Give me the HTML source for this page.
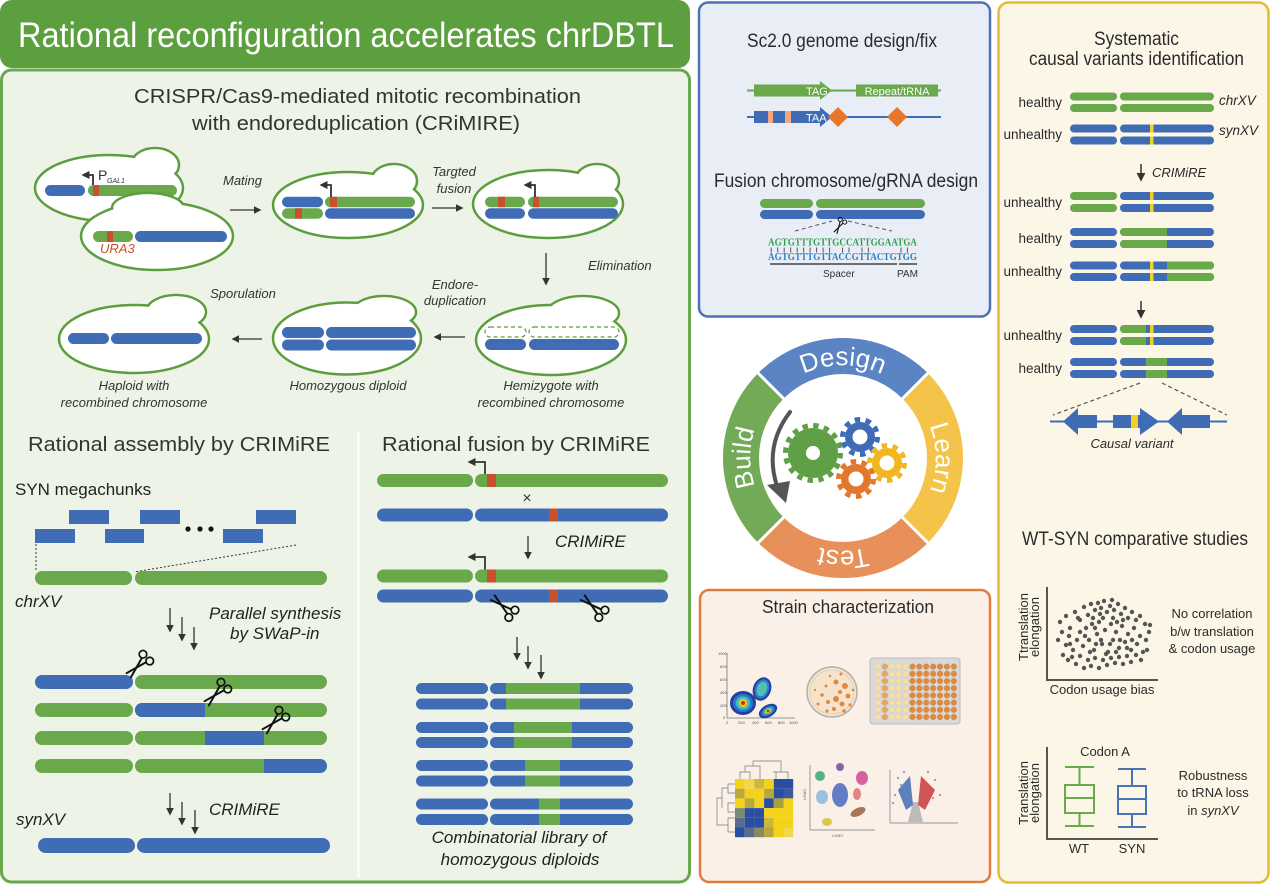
<!DOCTYPE html>
<html><head><meta charset="utf-8"><style>
html,body{margin:0;padding:0;background:#fff;}
svg{display:block;}
text{font-family:"Liberation Sans",Arial,sans-serif;}
</style></head><body>
<svg width="1274" height="886" viewBox="0 0 1274 886" xmlns="http://www.w3.org/2000/svg" xmlns:xlink="http://www.w3.org/1999/xlink">
<defs>
 <marker id="ah" viewBox="0 0 10 10" refX="8" refY="5" markerWidth="6" markerHeight="6" orient="auto"><path d="M0,0 L10,5 L0,10 z" fill="#333"/></marker>
 <marker id="ahs" viewBox="0 0 10 10" refX="8" refY="5" markerWidth="4.5" markerHeight="4.5" orient="auto"><path d="M0,0 L10,5 L0,10 z" fill="#333"/></marker>
 <g id="sc" fill="none" stroke="#111" stroke-width="2" stroke-linecap="round">
  <path d="M-16,-3 L5,2.8"/>
  <path d="M-16,3 L5,-2.8"/>
  <circle cx="9" cy="4.8" r="3.8" stroke-width="1.7"/>
  <circle cx="9" cy="-4.8" r="3.8" stroke-width="1.7"/>
 </g>
 <pattern id="wp" x="874.5" y="663" width="6.9" height="7.2" patternUnits="userSpaceOnUse"><circle cx="3.45" cy="3.6" r="2.8" fill="#f6e0a8" stroke="#e2c690" stroke-width="0.4"/></pattern>
 <pattern id="wt" x="874.5" y="663" width="6.9" height="7.2" patternUnits="userSpaceOnUse"><circle cx="3.45" cy="3.6" r="2.8" fill="#e6a765" stroke="#c98a4a" stroke-width="0.4"/></pattern>
 <pattern id="wo" x="874.5" y="663" width="6.9" height="7.2" patternUnits="userSpaceOnUse"><circle cx="3.45" cy="3.6" r="2.8" fill="#e08a3c" stroke="#c07030" stroke-width="0.4"/></pattern>
</defs>

<!-- ================= LEFT PANEL ================= -->
<rect x="1.5" y="70" width="688" height="812" rx="10" fill="#eef3e8" stroke="#6aa84f" stroke-width="3"/>
<rect x="0" y="0" width="690" height="68" rx="12" fill="#5c9f3e"/>
<text x="18" y="47" font-size="35" fill="#fff" textLength="656" lengthAdjust="spacingAndGlyphs">Rational reconfiguration accelerates chrDBTL</text>

<text x="134" y="103" font-size="20" fill="#333" textLength="447" lengthAdjust="spacingAndGlyphs">CRISPR/Cas9-mediated mitotic recombination</text>
<text x="192" y="130" font-size="20" fill="#333" textLength="328" lengthAdjust="spacingAndGlyphs">with endoreduplication (CRiMIRE)</text>

<!-- cell 1 -->
<ellipse cx="155" cy="165" rx="24" ry="17" fill="#fff" stroke="#5c9e3d" stroke-width="2.5"/>
<ellipse cx="109" cy="188" rx="74" ry="33" fill="#fff" stroke="#5c9e3d" stroke-width="2.5"/>
<ellipse cx="155" cy="165" rx="22.7" ry="15.7" fill="#fff"/>
<rect x="45" y="185" width="40" height="11" rx="5.5" fill="#3f6cb5"/>
<rect x="88" y="185" width="89" height="11" rx="5.5" fill="#69a84b"/>
<rect x="93" y="185" width="6" height="11" fill="#c9502c"/>
<path d="M93,185 V175 H83" fill="none" stroke="#333" stroke-width="1.8" marker-end="url(#ahs)"/>
<text x="98" y="180" font-size="14" fill="#333">P</text>
<text x="107" y="183" font-size="7" font-style="italic" fill="#333">GAL1</text>

<!-- cell 2 -->
<ellipse cx="148" cy="208" rx="36" ry="15" fill="#fff" stroke="#5c9e3d" stroke-width="2.5"/>
<ellipse cx="157" cy="236" rx="76" ry="34" fill="#fff" stroke="#5c9e3d" stroke-width="2.5"/>
<ellipse cx="148" cy="208" rx="34.7" ry="13.7" fill="#fff"/>
<rect x="93" y="231" width="40" height="11" rx="5.5" fill="#69a84b"/>
<rect x="107" y="231" width="6" height="11" fill="#c9502c"/>
<rect x="135" y="231" width="92" height="11" rx="5.5" fill="#3f6cb5"/>
<text x="100" y="253" font-size="13" font-style="italic" fill="#c9502c">URA3</text>

<text x="223" y="185" font-size="13" font-style="italic" fill="#333">Mating</text>
<line x1="230" y1="210" x2="260" y2="210" stroke="#333" stroke-width="1.3" marker-end="url(#ah)"/>

<!-- cell 3 -->
<ellipse cx="394" cy="181" rx="23" ry="17" fill="#fff" stroke="#5c9e3d" stroke-width="2.5"/>
<ellipse cx="348" cy="205" rx="75" ry="33" fill="#fff" stroke="#5c9e3d" stroke-width="2.5"/>
<ellipse cx="394" cy="181" rx="21.7" ry="15.7" fill="#fff"/>
<rect x="282" y="196.7" width="41" height="10.5" rx="5.25" fill="#3f6cb5"/>
<rect x="325" y="196.7" width="90" height="10.5" rx="5.25" fill="#69a84b"/>
<rect x="330" y="196.7" width="7" height="10.5" fill="#c9502c"/>
<rect x="282" y="208.2" width="41" height="10.5" rx="5.25" fill="#69a84b"/>
<rect x="295" y="208.2" width="7" height="10.5" fill="#c9502c"/>
<rect x="325" y="208.2" width="90" height="10.5" rx="5.25" fill="#3f6cb5"/>
<path d="M331,197 V185 H321" fill="none" stroke="#333" stroke-width="1.8" marker-end="url(#ahs)"/>

<text x="454" y="176" font-size="13" font-style="italic" fill="#333" text-anchor="middle">Targted</text>
<text x="454" y="193" font-size="13" font-style="italic" fill="#333" text-anchor="middle">fusion</text>
<line x1="432" y1="208" x2="462" y2="208" stroke="#333" stroke-width="1.3" marker-end="url(#ah)"/>

<!-- cell 4 -->
<ellipse cx="597" cy="181" rx="22" ry="17" fill="#fff" stroke="#5c9e3d" stroke-width="2.5"/>
<ellipse cx="548" cy="204" rx="75" ry="34" fill="#fff" stroke="#5c9e3d" stroke-width="2.5"/>
<ellipse cx="597" cy="181" rx="20.7" ry="15.7" fill="#fff"/>
<rect x="485" y="196.7" width="40" height="10.5" rx="5.25" fill="#69a84b"/>
<rect x="498" y="196.7" width="7" height="10.5" fill="#c9502c"/>
<rect x="528" y="196.7" width="90" height="10.5" rx="5.25" fill="#69a84b"/>
<rect x="533" y="196.7" width="6" height="10.5" fill="#c9502c"/>
<rect x="485" y="208.2" width="40" height="10.5" rx="5.25" fill="#3f6cb5"/>
<rect x="528" y="208.2" width="90" height="10.5" rx="5.25" fill="#3f6cb5"/>
<path d="M535,197 V185 H525" fill="none" stroke="#333" stroke-width="1.8" marker-end="url(#ahs)"/>

<line x1="546" y1="253" x2="546" y2="284" stroke="#333" stroke-width="1.3" marker-end="url(#ah)"/>
<text x="588" y="270" font-size="13" font-style="italic" fill="#333">Elimination</text>

<!-- hemizygote -->
<ellipse cx="583" cy="313" rx="36" ry="17" fill="#fff" stroke="#5c9e3d" stroke-width="2.5"/>
<ellipse cx="551" cy="340" rx="75" ry="35" fill="#fff" stroke="#5c9e3d" stroke-width="2.5"/>
<ellipse cx="583" cy="313" rx="34.7" ry="15.7" fill="#fff"/>
<rect x="485" y="327" width="41" height="10" rx="5" fill="none" stroke="#5c9e3d" stroke-width="1.2" stroke-dasharray="4 3"/>
<rect x="529" y="327" width="90" height="10" rx="5" fill="none" stroke="#5c9e3d" stroke-width="1.2" stroke-dasharray="4 3"/>
<rect x="485" y="339" width="41" height="11" rx="5.5" fill="#3f6cb5"/>
<rect x="529" y="339" width="90" height="11" rx="5.5" fill="#3f6cb5"/>

<text x="455" y="289" font-size="13" font-style="italic" fill="#333" text-anchor="middle">Endore-</text>
<text x="455" y="305" font-size="13" font-style="italic" fill="#333" text-anchor="middle">duplication</text>
<line x1="465" y1="337" x2="435" y2="337" stroke="#333" stroke-width="1.3" marker-end="url(#ah)"/>

<!-- homozygous -->
<ellipse cx="384" cy="312" rx="32" ry="16" fill="#fff" stroke="#5c9e3d" stroke-width="2.5"/>
<ellipse cx="347" cy="338.5" rx="74" ry="36" fill="#fff" stroke="#5c9e3d" stroke-width="2.5"/>
<ellipse cx="384" cy="312" rx="30.7" ry="14.7" fill="#fff"/>
<rect x="282" y="327" width="42" height="11" rx="5.5" fill="#3f6cb5"/>
<rect x="326" y="327" width="90" height="11" rx="5.5" fill="#3f6cb5"/>
<rect x="282" y="339.5" width="42" height="11" rx="5.5" fill="#3f6cb5"/>
<rect x="326" y="339.5" width="90" height="11" rx="5.5" fill="#3f6cb5"/>

<text x="243" y="298" font-size="13" font-style="italic" fill="#333" text-anchor="middle">Sporulation</text>
<line x1="262" y1="339" x2="233" y2="339" stroke="#333" stroke-width="1.3" marker-end="url(#ah)"/>

<!-- haploid -->
<ellipse cx="176" cy="312" rx="30" ry="17" fill="#fff" stroke="#5c9e3d" stroke-width="2.5"/>
<ellipse cx="134" cy="339" rx="75" ry="34" fill="#fff" stroke="#5c9e3d" stroke-width="2.5"/>
<ellipse cx="176" cy="312" rx="28.7" ry="15.7" fill="#fff"/>
<rect x="68" y="333" width="41" height="11" rx="5.5" fill="#3f6cb5"/>
<rect x="111" y="333" width="91" height="11" rx="5.5" fill="#3f6cb5"/>

<text x="134" y="390" font-size="13" font-style="italic" fill="#333" text-anchor="middle">Haploid with</text>
<text x="134" y="407" font-size="13" font-style="italic" fill="#333" text-anchor="middle">recombined chromosome</text>
<text x="348" y="390" font-size="13" font-style="italic" fill="#333" text-anchor="middle">Homozygous diploid</text>
<text x="551" y="390" font-size="13" font-style="italic" fill="#333" text-anchor="middle">Hemizygote with</text>
<text x="551" y="407" font-size="13" font-style="italic" fill="#333" text-anchor="middle">recombined chromosome</text>

<!-- divider -->
<line x1="358.5" y1="432" x2="358.5" y2="878" stroke="#fff" stroke-width="2"/>

<!-- ===== Rational assembly ===== -->
<text x="28" y="451" font-size="20" fill="#333" textLength="302" lengthAdjust="spacingAndGlyphs">Rational assembly by CRIMiRE</text>
<text x="15" y="495" font-size="17" fill="#222">SYN megachunks</text>
<g fill="#3f6cb5">
 <rect x="69" y="510" width="40" height="14"/>
 <rect x="140" y="510" width="40" height="14"/>
 <rect x="256" y="510" width="40" height="14"/>
 <rect x="35" y="529" width="40" height="14"/>
 <rect x="105" y="529" width="39" height="14"/>
 <rect x="223" y="529" width="40" height="14"/>
</g>
<circle cx="188" cy="529" r="2.6" fill="#111"/>
<circle cx="200" cy="529" r="2.6" fill="#111"/>
<circle cx="211" cy="529" r="2.6" fill="#111"/>
<line x1="36" y1="544" x2="36" y2="571" stroke="#333" stroke-width="1" stroke-dasharray="2 2"/>
<line x1="296" y1="545" x2="134" y2="572" stroke="#333" stroke-width="1" stroke-dasharray="2 2"/>
<rect x="35" y="571" width="97" height="14" rx="7" fill="#69a84b"/>
<rect x="135" y="571" width="192" height="14" rx="7" fill="#69a84b"/>
<text x="15" y="607" font-size="17" font-style="italic" fill="#222">chrXV</text>

<line x1="170" y1="608" x2="170" y2="631" stroke="#333" stroke-width="1.3" marker-end="url(#ah)"/>
<line x1="182" y1="617" x2="182" y2="640" stroke="#333" stroke-width="1.3" marker-end="url(#ah)"/>
<line x1="194" y1="627" x2="194" y2="649" stroke="#333" stroke-width="1.3" marker-end="url(#ah)"/>
<text x="209" y="619" font-size="17" font-style="italic" fill="#222">Parallel synthesis</text>
<text x="230" y="639" font-size="17" font-style="italic" fill="#222">by SWaP-in</text>

<!-- rows -->
<rect x="35" y="675" width="98" height="14" rx="7" fill="#3f6cb5"/>
<rect x="135" y="675" width="192" height="14" rx="7" fill="#69a84b"/>

<rect x="35" y="703" width="98" height="14" rx="7" fill="#69a84b"/>
<rect x="135" y="703" width="192" height="14" rx="7" fill="#69a84b"/>
<path d="M205,703 H142 A7,7 0 0 0 142,717 H205 Z" fill="#3f6cb5"/>

<rect x="35" y="731" width="98" height="14" rx="7" fill="#69a84b"/>
<rect x="135" y="731" width="192" height="14" rx="7" fill="#69a84b"/>
<rect x="205" y="731" width="59" height="14" fill="#3f6cb5"/>

<rect x="35" y="759" width="98" height="14" rx="7" fill="#69a84b"/>
<rect x="135" y="759" width="192" height="14" rx="7" fill="#69a84b"/>
<path d="M264,759 H320 A7,7 0 0 1 320,773 H264 Z" fill="#3f6cb5"/>

<use xlink:href="#sc" href="#sc" transform="translate(140,664) rotate(-45)"/>
<use xlink:href="#sc" href="#sc" transform="translate(218,692) rotate(-45)"/>
<use xlink:href="#sc" href="#sc" transform="translate(276,720) rotate(-45)"/>

<line x1="170" y1="793" x2="170" y2="814" stroke="#333" stroke-width="1.3" marker-end="url(#ah)"/>
<line x1="182" y1="802" x2="182" y2="824" stroke="#333" stroke-width="1.3" marker-end="url(#ah)"/>
<line x1="195" y1="810" x2="195" y2="833" stroke="#333" stroke-width="1.3" marker-end="url(#ah)"/>
<text x="209" y="815" font-size="17" font-style="italic" fill="#222">CRIMiRE</text>
<text x="16" y="825" font-size="17" font-style="italic" fill="#222">synXV</text>
<rect x="38" y="838" width="97" height="15" rx="7.5" fill="#3f6cb5"/>
<rect x="137" y="838" width="193" height="15" rx="7.5" fill="#3f6cb5"/>

<!-- ===== Rational fusion ===== -->
<text x="382" y="451" font-size="20" fill="#333" textLength="268" lengthAdjust="spacingAndGlyphs">Rational fusion by CRIMiRE</text>
<rect x="377" y="474" width="96" height="13" rx="6.5" fill="#69a84b"/>
<rect x="475" y="474" width="193" height="13" rx="6.5" fill="#69a84b"/>
<rect x="487" y="474" width="9" height="13" fill="#c9502c"/>
<path d="M485,474 V462 H469" fill="none" stroke="#333" stroke-width="1.8" marker-end="url(#ahs)"/>
<text x="527" y="503" font-size="16" fill="#333" text-anchor="middle">×</text>
<rect x="377" y="508.5" width="96" height="13" rx="6.5" fill="#3f6cb5"/>
<rect x="475" y="508.5" width="193" height="13" rx="6.5" fill="#3f6cb5"/>
<rect x="549" y="508.5" width="9" height="13" fill="#c9502c"/>
<line x1="528" y1="536" x2="528" y2="558" stroke="#333" stroke-width="1.3" marker-end="url(#ah)"/>
<text x="555" y="547" font-size="17" font-style="italic" fill="#222">CRIMiRE</text>
<rect x="377" y="569.5" width="96" height="13" rx="6.5" fill="#69a84b"/>
<rect x="475" y="569.5" width="193" height="13" rx="6.5" fill="#69a84b"/>
<rect x="487" y="569.5" width="9" height="13" fill="#c9502c"/>
<path d="M485,569.5 V557 H469" fill="none" stroke="#333" stroke-width="1.8" marker-end="url(#ahs)"/>
<rect x="377" y="589.5" width="96" height="13" rx="6.5" fill="#3f6cb5"/>
<rect x="475" y="589.5" width="193" height="13" rx="6.5" fill="#3f6cb5"/>
<rect x="549" y="589.5" width="9" height="13" fill="#c9502c"/>
<use xlink:href="#sc" href="#sc" transform="translate(505,608) rotate(40)"/>
<use xlink:href="#sc" href="#sc" transform="translate(595,608) rotate(40)"/>

<line x1="517" y1="637" x2="517" y2="659" stroke="#333" stroke-width="1.3" marker-end="url(#ah)"/>
<line x1="528" y1="646" x2="528" y2="668" stroke="#333" stroke-width="1.3" marker-end="url(#ah)"/>
<line x1="541" y1="655" x2="541" y2="678" stroke="#333" stroke-width="1.3" marker-end="url(#ah)"/>

<g fill="#3f6cb5">
 <rect x="416" y="683" width="72" height="11" rx="5.5"/><rect x="490" y="683" width="143" height="11" rx="5.5"/>
 <rect x="416" y="698.5" width="72" height="11" rx="5.5"/><rect x="490" y="698.5" width="143" height="11" rx="5.5"/>
 <rect x="416" y="722" width="72" height="11" rx="5.5"/><rect x="490" y="722" width="143" height="11" rx="5.5"/>
 <rect x="416" y="737" width="72" height="11" rx="5.5"/><rect x="490" y="737" width="143" height="11" rx="5.5"/>
 <rect x="416" y="760" width="72" height="11" rx="5.5"/><rect x="490" y="760" width="143" height="11" rx="5.5"/>
 <rect x="416" y="775.5" width="72" height="11" rx="5.5"/><rect x="490" y="775.5" width="143" height="11" rx="5.5"/>
 <rect x="416" y="798.5" width="72" height="11" rx="5.5"/><rect x="490" y="798.5" width="143" height="11" rx="5.5"/>
 <rect x="416" y="814" width="72" height="11" rx="5.5"/><rect x="490" y="814" width="143" height="11" rx="5.5"/>
</g>
<g fill="#69a84b">
 <rect x="506" y="683" width="74" height="11"/><rect x="506" y="698.5" width="74" height="11"/>
 <rect x="514" y="722" width="58" height="11"/><rect x="514" y="737" width="58" height="11"/>
 <rect x="525" y="760" width="35" height="11"/><rect x="525" y="775.5" width="35" height="11"/>
 <rect x="539" y="798.5" width="21" height="11"/><rect x="539" y="814" width="21" height="11"/>
</g>
<text x="519" y="843" font-size="17" font-style="italic" fill="#222" text-anchor="middle">Combinatorial library of</text>
<text x="520" y="865" font-size="17" font-style="italic" fill="#222" text-anchor="middle">homozygous diploids</text>

<!-- ================= MIDDLE TOP (blue) ================= -->
<rect x="699" y="2.5" width="291" height="314" rx="9" fill="#e9edf5" stroke="#4a72b8" stroke-width="2.5"/>
<text x="747" y="47" font-size="19" fill="#2b2b2b" textLength="190" lengthAdjust="spacingAndGlyphs">Sc2.0 genome design/fix</text>
<line x1="747" y1="90.5" x2="941" y2="90.5" stroke="#69a84b" stroke-width="2"/>
<path d="M754,84.5 H820 V81 L832,90.5 L820,100 V96.5 H754 Z" fill="#69a84b"/>
<text x="806" y="95" font-size="11" fill="#fff">TAG</text>
<rect x="856" y="84.5" width="82" height="12" fill="#69a84b"/>
<text x="897" y="95" font-size="11" fill="#fff" text-anchor="middle">Repeat/tRNA</text>
<line x1="747" y1="117" x2="941" y2="117" stroke="#3f6cb5" stroke-width="2"/>
<path d="M754,111 H820 V107 L832,117 L820,127 V123 H754 Z" fill="#3f6cb5"/>
<rect x="768" y="111" width="5" height="12" fill="#f2a87a"/>
<rect x="785" y="111" width="6" height="12" fill="#f2a87a"/>
<text x="806" y="121.5" font-size="11" fill="#fff">TAA</text>
<path d="M838,107 L848,117 L838,127 L828,117 Z" fill="#e8772e"/>
<path d="M897,107 L907,117 L897,127 L887,117 Z" fill="#e8772e"/>

<text x="714" y="187" font-size="19" fill="#2b2b2b" textLength="264" lengthAdjust="spacingAndGlyphs">Fusion chromosome/gRNA design</text>
<rect x="760" y="199" width="53" height="9" rx="4.5" fill="#69a84b"/>
<rect x="816" y="199" width="109" height="9" rx="4.5" fill="#69a84b"/>
<rect x="760" y="210" width="53" height="9" rx="4.5" fill="#3f6cb5"/>
<rect x="816" y="210" width="109" height="9" rx="4.5" fill="#3f6cb5"/>
<line x1="795" y1="231" x2="832" y2="221" stroke="#555" stroke-width="1" stroke-dasharray="4 3"/>
<line x1="848" y1="221" x2="892" y2="231" stroke="#555" stroke-width="1" stroke-dasharray="4 3"/>
<use xlink:href="#sc" href="#sc" transform="translate(840,225) rotate(-60) scale(0.55)"/>
<text x="768" y="245.5" font-size="10" font-weight="bold" fill="#2f9e4f" textLength="149" lengthAdjust="spacingAndGlyphs" style="font-family:'Liberation Serif',serif">AGTGTTTGTTGCCATTGGAATGA</text>
<g stroke="#555" stroke-width="1">
 <line x1="771.2" y1="247.5" x2="771.2" y2="252.5"/><line x1="777.7" y1="247.5" x2="777.7" y2="252.5"/><line x1="784.2" y1="247.5" x2="784.2" y2="252.5"/><line x1="790.7" y1="247.5" x2="790.7" y2="252.5"/><line x1="797.2" y1="247.5" x2="797.2" y2="252.5"/><line x1="803.6" y1="247.5" x2="803.6" y2="252.5"/><line x1="810.1" y1="247.5" x2="810.1" y2="252.5"/><line x1="816.6" y1="247.5" x2="816.6" y2="252.5"/><line x1="823.1" y1="247.5" x2="823.1" y2="252.5"/><line x1="829.6" y1="247.5" x2="829.6" y2="252.5"/>
 <line x1="842.5" y1="247.5" x2="842.5" y2="252.5"/><line x1="849" y1="247.5" x2="849" y2="252.5"/><line x1="862" y1="247.5" x2="862" y2="252.5"/><line x1="868.4" y1="247.5" x2="868.4" y2="252.5"/><line x1="901" y1="247.5" x2="901" y2="252.5"/><line x1="907.4" y1="247.5" x2="907.4" y2="252.5"/>
</g>
<text x="768" y="260" font-size="10" font-weight="bold" fill="#2f7fc1" textLength="149" lengthAdjust="spacingAndGlyphs" style="font-family:'Liberation Serif',serif">AGTGTTTGTTACCGTTACTGTGG</text>
<line x1="770" y1="264" x2="897" y2="264" stroke="#444" stroke-width="1.5"/>
<line x1="899" y1="264" x2="917" y2="264" stroke="#444" stroke-width="1.5"/>
<text x="823" y="277" font-size="10" fill="#333">Spacer</text>
<text x="897" y="277" font-size="10" fill="#333">PAM</text>

<!-- ================= DBTL RING ================= -->
<path d="M758.15,373.15 A120,120 0 0 1 927.85,373.15 L902.4,398.6 A84,84 0 0 0 783.6,398.6 Z" fill="#5b84c4"/>
<path d="M927.85,373.15 A120,120 0 0 1 927.85,542.85 L902.4,517.4 A84,84 0 0 0 902.4,398.6 Z" fill="#f4c44a"/>
<path d="M927.85,542.85 A120,120 0 0 1 758.15,542.85 L783.6,517.4 A84,84 0 0 0 902.4,517.4 Z" fill="#e8905a"/>
<path d="M758.15,542.85 A120,120 0 0 1 758.15,373.15 L783.6,398.6 A84,84 0 0 0 783.6,517.4 Z" fill="#72aa57"/>
<g stroke="#fff" stroke-width="3">
 <line x1="756" y1="371" x2="786" y2="401"/><line x1="930" y1="371" x2="900" y2="401"/>
 <line x1="930" y1="545" x2="900" y2="515"/><line x1="756" y1="545" x2="786" y2="515"/>
</g>
<path id="ringp" d="M777.95,523.05 A92,92 0 1 1 908.05,392.95 A92,92 0 1 1 777.95,523.05" fill="none"/>
<text font-size="26" fill="#fff" text-anchor="middle">
 <textPath xlink:href="#ringp" href="#ringp" startOffset="12.5%">Build</textPath>
</text>
<text font-size="26" fill="#fff" text-anchor="middle">
 <textPath xlink:href="#ringp" href="#ringp" startOffset="37.5%">Design</textPath>
</text>
<text font-size="26" fill="#fff" text-anchor="middle">
 <textPath xlink:href="#ringp" href="#ringp" startOffset="62.5%">Learn</textPath>
</text>
<text font-size="26" fill="#fff" text-anchor="middle">
 <textPath xlink:href="#ringp" href="#ringp" startOffset="87.5%">Test</textPath>
</text>

<!-- gears -->
<circle cx="813" cy="453" r="25" fill="#5fa046"/>
<circle cx="813" cy="453" r="27.5" fill="none" stroke="#5fa046" stroke-width="5" stroke-dasharray="5.4 5.4"/>
<circle cx="813" cy="453" r="7" fill="#fff"/>
<circle cx="860" cy="437" r="15" fill="#3f6cb5"/>
<circle cx="860" cy="437" r="17.5" fill="none" stroke="#3f6cb5" stroke-width="5" stroke-dasharray="5.5 5.5"/>
<circle cx="860" cy="437" r="7.5" fill="#fff"/>
<circle cx="887" cy="463" r="15" fill="#f2b61f"/>
<circle cx="887" cy="463" r="17.5" fill="none" stroke="#f2b61f" stroke-width="5" stroke-dasharray="5.5 5.5"/>
<circle cx="887" cy="463" r="7.5" fill="#fff"/>
<circle cx="856" cy="479" r="15" fill="#e2782f"/>
<circle cx="856" cy="479" r="17.5" fill="none" stroke="#e2782f" stroke-width="5" stroke-dasharray="5.5 5.5"/>
<circle cx="856" cy="479" r="7.5" fill="#fff"/>
<!-- curved arrow -->
<path d="M790,412 Q764,446 777,486" fill="none" stroke="#555" stroke-width="4" stroke-linecap="round"/>
<path d="M767,485 L790,481 L786,503 Z" fill="#555"/>

<!-- ================= MIDDLE BOTTOM (orange) ================= -->
<rect x="700" y="590" width="290" height="292" rx="9" fill="#fbf0e8" stroke="#e07b39" stroke-width="2.5"/>
<text x="762" y="613" font-size="18" fill="#2b2b2b" textLength="172" lengthAdjust="spacingAndGlyphs">Strain characterization</text>

<!-- flow plot -->
<g stroke="#777" stroke-width="0.8">
 <line x1="727" y1="653" x2="727" y2="718"/><line x1="727" y1="718" x2="795" y2="718"/>
</g>
<g font-size="4" fill="#555">
 <text x="718" y="655">1000</text><text x="720" y="668">800</text><text x="720" y="681">600</text><text x="720" y="694">400</text><text x="720" y="707">200</text><text x="723" y="719">0</text>
 <text x="726" y="724">0</text><text x="738" y="724">200</text><text x="752" y="724">400</text><text x="765" y="724">600</text><text x="778" y="724">800</text><text x="789" y="724">1000</text>
</g>
<ellipse cx="743" cy="703" rx="13" ry="12" fill="#23409e"/>
<ellipse cx="743" cy="703" rx="10" ry="9" fill="#2a7ad0"/>
<ellipse cx="743" cy="703" rx="7" ry="6.5" fill="#43c1b8"/>
<ellipse cx="743" cy="703" rx="4" ry="4" fill="#f0d000"/>
<circle cx="743" cy="703" r="2" fill="#d52020"/>
<g transform="translate(762,689) rotate(20)">
 <ellipse rx="9" ry="12" fill="#23409e"/><ellipse rx="7" ry="10" fill="#2a7ad0"/><ellipse rx="5" ry="7.5" fill="#52c0b0"/>
</g>
<g transform="translate(768,711) rotate(-30)">
 <ellipse rx="10" ry="6" fill="#23409e"/><ellipse rx="7.5" ry="4.2" fill="#2a7ad0"/><ellipse rx="5" ry="3" fill="#43c1b8"/><ellipse rx="3" ry="2" fill="#f0d000"/><circle r="1.3" fill="#d52020"/>
</g>

<!-- petri -->
<circle cx="832" cy="692" r="25" fill="#f6e3cb" stroke="#b5b0a8" stroke-width="1.5"/>
<circle cx="832" cy="692" r="22" fill="none" stroke="#d8cfc2" stroke-width="0.8"/>
<g fill="#e08a3c">
 <circle cx="836" cy="682" r="2.5"/><circle cx="845" cy="686" r="3"/><circle cx="840" cy="692" r="2"/><circle cx="848" cy="696" r="2.5"/><circle cx="836" cy="699" r="3"/><circle cx="828" cy="702" r="2"/><circle cx="842" cy="704" r="2.5"/><circle cx="822" cy="695" r="1.8"/><circle cx="834" cy="709" r="2"/><circle cx="850" cy="705" r="1.6"/><circle cx="826" cy="686" r="1.5"/><circle cx="818" cy="704" r="1.5"/><circle cx="830" cy="676" r="1.3"/><circle cx="841" cy="674" r="1.5"/><circle cx="853" cy="690" r="1.4"/><circle cx="827" cy="711" r="1.6"/><circle cx="815" cy="690" r="1.2"/><circle cx="844" cy="711" r="1.8"/>
</g>

<!-- plate -->
<rect x="870" y="658" width="90" height="66" rx="3" fill="#d9d9d9" stroke="#bcbcbc" stroke-width="1"/>
<rect x="874.5" y="663" width="6.9" height="57.6" fill="url(#wp)"/>
<rect x="881.4" y="663" width="6.9" height="57.6" fill="url(#wt)"/>
<rect x="888.3" y="663" width="20.7" height="57.6" fill="url(#wp)"/>
<rect x="909" y="663" width="48.3" height="57.6" fill="url(#wo)"/>

<!-- heatmap -->
<g fill="none" stroke="#777" stroke-width="0.7">
 <path d="M740,779 V772 H750 V779 M745,772 V766 H760 V779 M753,766 V761 H781 V772 M773,772 H788 V779 M776,772 V779"/>
 <path d="M735,784 H728 V793 H735 M728,788 H722 V808 M722,798 H717 V825 H728 M735,803 H728 V812 H735 M728,825 V818 H735 M728,825 V832 H735"/>
</g>
<g>
 <rect x="735" y="779" width="9.7" height="9.7" fill="#f5d21a"/><rect x="744.7" y="779" width="9.7" height="9.7" fill="#f0d84a"/><rect x="754.4" y="779" width="9.7" height="9.7" fill="#c9b83a"/><rect x="764.1" y="779" width="9.7" height="9.7" fill="#f5d21a"/><rect x="773.8" y="779" width="9.7" height="9.7" fill="#2a4fa0"/><rect x="783.5" y="779" width="9.7" height="9.7" fill="#2a4fa0"/>
 <rect x="735" y="788.7" width="9.7" height="9.7" fill="#b8a93a"/><rect x="744.7" y="788.7" width="9.7" height="9.7" fill="#f5d21a"/><rect x="754.4" y="788.7" width="9.7" height="9.7" fill="#f5d21a"/><rect x="764.1" y="788.7" width="9.7" height="9.7" fill="#b8a93a"/><rect x="773.8" y="788.7" width="9.7" height="9.7" fill="#2a4fa0"/><rect x="783.5" y="788.7" width="9.7" height="9.7" fill="#3a5aa0"/>
 <rect x="735" y="798.4" width="9.7" height="9.7" fill="#f5d21a"/><rect x="744.7" y="798.4" width="9.7" height="9.7" fill="#b8a93a"/><rect x="754.4" y="798.4" width="9.7" height="9.7" fill="#f5d21a"/><rect x="764.1" y="798.4" width="9.7" height="9.7" fill="#2a4fa0"/><rect x="773.8" y="798.4" width="9.7" height="9.7" fill="#a8a040"/><rect x="783.5" y="798.4" width="9.7" height="9.7" fill="#f5d21a"/>
 <rect x="735" y="808.1" width="9.7" height="9.7" fill="#7a8a70"/><rect x="744.7" y="808.1" width="9.7" height="9.7" fill="#2a4fa0"/><rect x="754.4" y="808.1" width="9.7" height="9.7" fill="#2a4fa0"/><rect x="764.1" y="808.1" width="9.7" height="9.7" fill="#f5d21a"/><rect x="773.8" y="808.1" width="9.7" height="9.7" fill="#f5d21a"/><rect x="783.5" y="808.1" width="9.7" height="9.7" fill="#f5d21a"/>
 <rect x="735" y="817.8" width="9.7" height="9.7" fill="#5a6c8a"/><rect x="744.7" y="817.8" width="9.7" height="9.7" fill="#2a4fa0"/><rect x="754.4" y="817.8" width="9.7" height="9.7" fill="#2a4fa0"/><rect x="764.1" y="817.8" width="9.7" height="9.7" fill="#c9b83a"/><rect x="773.8" y="817.8" width="9.7" height="9.7" fill="#f5d21a"/><rect x="783.5" y="817.8" width="9.7" height="9.7" fill="#f5d21a"/>
 <rect x="735" y="827.5" width="9.7" height="9.7" fill="#2a4fa0"/><rect x="744.7" y="827.5" width="9.7" height="9.7" fill="#5a6c8a"/><rect x="754.4" y="827.5" width="9.7" height="9.7" fill="#8a8a60"/><rect x="764.1" y="827.5" width="9.7" height="9.7" fill="#b8a93a"/><rect x="773.8" y="827.5" width="9.7" height="9.7" fill="#f5d21a"/><rect x="783.5" y="827.5" width="9.7" height="9.7" fill="#f0d84a"/>
</g>

<!-- tsne -->
<g stroke="#777" stroke-width="0.7"><line x1="810" y1="765" x2="810" y2="830"/><line x1="810" y1="830" x2="875" y2="830"/></g>
<g font-size="3.5" fill="#666"><text x="832" y="837">t-SNE1</text><text x="806" y="800" transform="rotate(-90 806 800)">t-SNE2</text></g>
<g opacity="0.85">
 <ellipse cx="820" cy="776" rx="5" ry="5" fill="#3aa57a"/>
 <ellipse cx="840" cy="767" rx="4" ry="4" fill="#7a4aa0"/>
 <ellipse cx="862" cy="778" rx="6" ry="7" fill="#d04a90"/>
 <ellipse cx="822" cy="797" rx="6" ry="7" fill="#8ab8e0"/>
 <ellipse cx="840" cy="795" rx="8" ry="12" fill="#4a6ac0"/>
 <ellipse cx="857" cy="794" rx="4" ry="6" fill="#e07070"/>
 <ellipse cx="858" cy="812" rx="8" ry="4" fill="#a06040" transform="rotate(-25 858 812)"/>
 <ellipse cx="827" cy="822" rx="5" ry="4" fill="#d8c030"/>
</g>

<!-- volcano -->
<g stroke="#777" stroke-width="0.7"><line x1="890" y1="770" x2="890" y2="823"/><line x1="890" y1="823" x2="958" y2="823"/></g>
<path d="M908,822 L913,802 L918,802 L923,822 Z" fill="#bbb"/>
<path d="M898,790 L910,776 L913,805 L906,810 Z" fill="#3f6cb5" opacity="0.85"/>
<path d="M921,776 L935,790 L925,810 L918,805 Z" fill="#c83a3a" opacity="0.85"/>
<g fill="#3f6cb5"><circle cx="898" cy="778" r="0.9"/><circle cx="904" cy="772" r="0.9"/><circle cx="895" cy="795" r="0.9"/><circle cx="901" cy="785" r="0.9"/><circle cx="893" cy="803" r="0.9"/></g>
<g fill="#c83a3a"><circle cx="935" cy="780" r="0.9"/><circle cx="940" cy="795" r="0.9"/><circle cx="933" cy="798" r="0.9"/><circle cx="928" cy="772" r="0.9"/></g>

<!-- ================= RIGHT PANEL ================= -->
<rect x="998.5" y="2.5" width="270" height="880" rx="10" fill="#fcf6e7" stroke="#e8b934" stroke-width="2.5"/>
<text x="1094" y="45" font-size="19" fill="#2b2b2b" textLength="85" lengthAdjust="spacingAndGlyphs">Systematic</text>
<text x="1029" y="65" font-size="19" fill="#2b2b2b" textLength="215" lengthAdjust="spacingAndGlyphs">causal variants identification</text>

<g font-size="13.5" fill="#2b2b2b" text-anchor="end">
 <text x="1062" y="107">healthy</text>
 <text x="1062" y="139">unhealthy</text>
 <text x="1062" y="207">unhealthy</text>
 <text x="1062" y="243">healthy</text>
 <text x="1062" y="276">unhealthy</text>
 <text x="1062" y="340">unhealthy</text>
 <text x="1062" y="373">healthy</text>
</g>
<text x="1219" y="105" font-size="13.5" font-style="italic" fill="#2b2b2b">chrXV</text>
<text x="1219" y="135" font-size="13.5" font-style="italic" fill="#2b2b2b">synXV</text>

<!-- group 1 -->
<rect x="1070" y="92.5" width="47" height="8" rx="4" fill="#69a84b"/><rect x="1120" y="92.5" width="94" height="8" rx="4" fill="#69a84b"/>
<rect x="1070" y="104" width="47" height="8" rx="4" fill="#69a84b"/><rect x="1120" y="104" width="94" height="8" rx="4" fill="#69a84b"/>
<rect x="1070" y="124.5" width="47" height="8" rx="4" fill="#3f6cb5"/><rect x="1120" y="124.5" width="94" height="8" rx="4" fill="#3f6cb5"/><rect x="1150" y="124.5" width="3.5" height="8" fill="#f5d020"/>
<rect x="1070" y="136.5" width="47" height="8" rx="4" fill="#3f6cb5"/><rect x="1120" y="136.5" width="94" height="8" rx="4" fill="#3f6cb5"/><rect x="1150" y="136.5" width="3.5" height="8" fill="#f5d020"/>

<line x1="1141" y1="164" x2="1141" y2="180" stroke="#333" stroke-width="1.5" marker-end="url(#ah)"/>
<text x="1152" y="177" font-size="13" font-style="italic" fill="#2b2b2b">CRIMiRE</text>

<!-- group 2 -->
<rect x="1070" y="192" width="47" height="8" rx="4" fill="#69a84b"/><rect x="1120" y="192" width="94" height="8" rx="4" fill="#3f6cb5"/><rect x="1150" y="192" width="3.5" height="8" fill="#f5d020"/>
<rect x="1070" y="204" width="47" height="8" rx="4" fill="#69a84b"/><rect x="1120" y="204" width="94" height="8" rx="4" fill="#3f6cb5"/><rect x="1150" y="204" width="3.5" height="8" fill="#f5d020"/>

<rect x="1070" y="228" width="47" height="8" rx="4" fill="#3f6cb5"/><rect x="1120" y="228" width="94" height="8" rx="4" fill="#3f6cb5"/><path d="M1167,228 H1124 A4,4 0 0 0 1124,236 H1167 Z" fill="#69a84b"/>
<rect x="1070" y="240" width="47" height="8" rx="4" fill="#3f6cb5"/><rect x="1120" y="240" width="94" height="8" rx="4" fill="#3f6cb5"/><path d="M1167,240 H1124 A4,4 0 0 0 1124,248 H1167 Z" fill="#69a84b"/>

<rect x="1070" y="261.5" width="47" height="8" rx="4" fill="#3f6cb5"/><rect x="1120" y="261.5" width="94" height="8" rx="4" fill="#3f6cb5"/><rect x="1150" y="261.5" width="3.5" height="8" fill="#f5d020"/><path d="M1167,261.5 H1210 A4,4 0 0 1 1210,269.5 H1167 Z" fill="#69a84b"/>
<rect x="1070" y="273" width="47" height="8" rx="4" fill="#3f6cb5"/><rect x="1120" y="273" width="94" height="8" rx="4" fill="#3f6cb5"/><rect x="1150" y="273" width="3.5" height="8" fill="#f5d020"/><path d="M1167,273 H1210 A4,4 0 0 1 1210,281 H1167 Z" fill="#69a84b"/>

<line x1="1141" y1="301" x2="1141" y2="317" stroke="#333" stroke-width="1.5" marker-end="url(#ah)"/>

<!-- group 3 -->
<rect x="1070" y="325" width="47" height="8" rx="4" fill="#3f6cb5"/><rect x="1120" y="325" width="94" height="8" rx="4" fill="#3f6cb5"/><path d="M1146,325 H1124 A4,4 0 0 0 1124,333 H1146 Z" fill="#69a84b"/><rect x="1150" y="325" width="3.5" height="8" fill="#f5d020"/>
<rect x="1070" y="337" width="47" height="8" rx="4" fill="#3f6cb5"/><rect x="1120" y="337" width="94" height="8" rx="4" fill="#3f6cb5"/><path d="M1146,337 H1124 A4,4 0 0 0 1124,345 H1146 Z" fill="#69a84b"/><rect x="1150" y="337" width="3.5" height="8" fill="#f5d020"/>
<rect x="1070" y="358" width="47" height="8" rx="4" fill="#3f6cb5"/><rect x="1120" y="358" width="94" height="8" rx="4" fill="#3f6cb5"/><rect x="1146" y="358" width="21" height="8" fill="#69a84b"/>
<rect x="1070" y="370" width="47" height="8" rx="4" fill="#3f6cb5"/><rect x="1120" y="370" width="94" height="8" rx="4" fill="#3f6cb5"/><rect x="1146" y="370" width="21" height="8" fill="#69a84b"/>

<line x1="1140" y1="383" x2="1053" y2="415" stroke="#555" stroke-width="1.2" stroke-dasharray="4 3"/>
<line x1="1162" y1="383" x2="1227" y2="415" stroke="#555" stroke-width="1.2" stroke-dasharray="4 3"/>
<line x1="1050" y1="421.5" x2="1227" y2="421.5" stroke="#3f6cb5" stroke-width="2"/>
<path d="M1063,421.5 L1078,408 V415 H1097 V428 H1078 V435 Z" fill="#3f6cb5"/>
<path d="M1113,415 H1140 V408 L1159,421.5 L1140,435 V428 H1113 Z" fill="#3f6cb5"/>
<rect x="1131" y="415" width="7" height="13" fill="#f5d020"/>
<path d="M1167,421.5 L1182,408 V415 H1210 V428 H1182 V435 Z" fill="#3f6cb5"/>
<text x="1132" y="448" font-size="13" font-style="italic" fill="#2b2b2b" text-anchor="middle">Causal variant</text>

<!-- WT-SYN -->
<text x="1022" y="545" font-size="19" fill="#2b2b2b" textLength="226" lengthAdjust="spacingAndGlyphs">WT-SYN comparative studies</text>
<path d="M1047,587 V680 H1158" fill="none" stroke="#555" stroke-width="2"/>
<text transform="translate(1028,627) rotate(-90)" font-size="13" fill="#2b2b2b" text-anchor="middle">Ttranslation</text>
<text transform="translate(1039,627) rotate(-90)" font-size="13" fill="#2b2b2b" text-anchor="middle">elongation</text>
<text x="1102" y="694" font-size="13" fill="#2b2b2b" text-anchor="middle">Codon usage bias</text>
<g fill="#555">
 <circle cx="1060" cy="622" r="2.2"/><circle cx="1066" cy="616" r="2.2"/><circle cx="1070" cy="628" r="2.2"/><circle cx="1075" cy="612" r="2.2"/><circle cx="1080" cy="620" r="2.2"/><circle cx="1084" cy="607" r="2.2"/><circle cx="1088" cy="615" r="2.2"/><circle cx="1091" cy="604" r="2.2"/><circle cx="1095" cy="610" r="2.2"/><circle cx="1098" cy="603" r="2.2"/><circle cx="1101" cy="608" r="2.2"/><circle cx="1104" cy="601" r="2.2"/><circle cx="1107" cy="612" r="2.2"/><circle cx="1110" cy="606" r="2.2"/><circle cx="1114" cy="610" r="2.2"/><circle cx="1118" cy="604" r="2.2"/><circle cx="1121" cy="614" r="2.2"/><circle cx="1125" cy="608" r="2.2"/><circle cx="1128" cy="618" r="2.2"/><circle cx="1132" cy="612" r="2.2"/><circle cx="1136" cy="620" r="2.2"/><circle cx="1140" cy="616" r="2.2"/><circle cx="1145" cy="624" r="2.2"/><circle cx="1150" cy="625" r="2.2"/>
 <circle cx="1058" cy="640" r="2.2"/><circle cx="1062" cy="632" r="2.2"/><circle cx="1066" cy="645" r="2.2"/><circle cx="1069" cy="636" r="2.2"/><circle cx="1073" cy="650" r="2.2"/><circle cx="1077" cy="640" r="2.2"/><circle cx="1080" cy="632" r="2.2"/><circle cx="1083" cy="646" r="2.2"/><circle cx="1086" cy="628" r="2.2"/><circle cx="1089" cy="640" r="2.2"/><circle cx="1092" cy="624" r="2.2"/><circle cx="1094" cy="650" r="2.2"/><circle cx="1097" cy="634" r="2.2"/><circle cx="1099" cy="622" r="2.2"/><circle cx="1102" cy="644" r="2.2"/><circle cx="1105" cy="630" r="2.2"/><circle cx="1108" cy="652" r="2.2"/><circle cx="1111" cy="624" r="2.2"/><circle cx="1113" cy="640" r="2.2"/><circle cx="1116" cy="632" r="2.2"/><circle cx="1119" cy="648" r="2.2"/><circle cx="1122" cy="626" r="2.2"/><circle cx="1125" cy="642" r="2.2"/><circle cx="1128" cy="634" r="2.2"/><circle cx="1131" cy="650" r="2.2"/><circle cx="1134" cy="628" r="2.2"/><circle cx="1137" cy="644" r="2.2"/><circle cx="1140" cy="636" r="2.2"/><circle cx="1143" cy="652" r="2.2"/><circle cx="1146" cy="640" r="2.2"/><circle cx="1149" cy="632" r="2.2"/>
 <circle cx="1063" cy="655" r="2.2"/><circle cx="1068" cy="660" r="2.2"/><circle cx="1072" cy="657" r="2.2"/><circle cx="1076" cy="664" r="2.2"/><circle cx="1080" cy="656" r="2.2"/><circle cx="1084" cy="668" r="2.2"/><circle cx="1088" cy="660" r="2.2"/><circle cx="1091" cy="666" r="2.2"/><circle cx="1095" cy="658" r="2.2"/><circle cx="1099" cy="668" r="2.2"/><circle cx="1103" cy="660" r="2.2"/><circle cx="1107" cy="665" r="2.2"/><circle cx="1111" cy="658" r="2.2"/><circle cx="1115" cy="663" r="2.2"/><circle cx="1119" cy="657" r="2.2"/><circle cx="1123" cy="664" r="2.2"/><circle cx="1127" cy="656" r="2.2"/><circle cx="1131" cy="662" r="2.2"/><circle cx="1136" cy="655" r="2.2"/><circle cx="1141" cy="660" r="2.2"/><circle cx="1147" cy="650" r="2.2"/>
 <circle cx="1078" cy="618" r="2.2"/><circle cx="1093" cy="618" r="2.2"/><circle cx="1103" cy="618" r="2.2"/><circle cx="1113" cy="618" r="2.2"/><circle cx="1117" cy="622" r="2.2"/><circle cx="1085" cy="636" r="2.2"/><circle cx="1101" cy="640" r="2.2"/><circle cx="1110" cy="644" r="2.2"/><circle cx="1096" cy="644" r="2.2"/><circle cx="1120" cy="640" r="2.2"/><circle cx="1132" cy="640" r="2.2"/><circle cx="1070" cy="644" r="2.2"/><circle cx="1090" cy="652" r="2.2"/><circle cx="1106" cy="654" r="2.2"/><circle cx="1127" cy="648" r="2.2"/><circle cx="1116" cy="652" r="2.2"/><circle cx="1100" cy="614" r="2.2"/><circle cx="1112" cy="600" r="2.2"/><circle cx="1095" cy="628" r="2.2"/><circle cx="1123" cy="620" r="2.2"/>
</g>
<g font-size="13" fill="#2b2b2b" text-anchor="middle">
 <text x="1212" y="618">No correlation</text>
 <text x="1212" y="636">b/w translation</text>
 <text x="1212" y="653">&amp; codon usage</text>
</g>

<path d="M1047,747 V839 H1158" fill="none" stroke="#555" stroke-width="2"/>
<text x="1105" y="756" font-size="13" fill="#2b2b2b" text-anchor="middle">Codon A</text>
<text transform="translate(1028,793) rotate(-90)" font-size="13" fill="#2b2b2b" text-anchor="middle">Translation</text>
<text transform="translate(1039,793) rotate(-90)" font-size="13" fill="#2b2b2b" text-anchor="middle">elongation</text>
<g fill="none" stroke="#6aaa4f" stroke-width="2">
 <line x1="1065" y1="767" x2="1094" y2="767"/><line x1="1079.5" y1="767" x2="1079.5" y2="785"/>
 <rect x="1065" y="785" width="29" height="28"/><line x1="1065" y1="798" x2="1094" y2="798"/>
 <line x1="1079.5" y1="813" x2="1079.5" y2="826"/><line x1="1065" y1="826" x2="1094" y2="826"/>
</g>
<g fill="none" stroke="#4a72b8" stroke-width="2">
 <line x1="1118" y1="769" x2="1146" y2="769"/><line x1="1132" y1="769" x2="1132" y2="786"/>
 <rect x="1118" y="786" width="28" height="28"/><line x1="1118" y1="799" x2="1146" y2="799"/>
 <line x1="1132" y1="814" x2="1132" y2="827"/><line x1="1118" y1="827" x2="1146" y2="827"/>
</g>
<text x="1079" y="853" font-size="13" fill="#2b2b2b" text-anchor="middle">WT</text>
<text x="1132" y="853" font-size="13" fill="#2b2b2b" text-anchor="middle">SYN</text>
<g font-size="13" fill="#2b2b2b" text-anchor="middle">
 <text x="1213" y="780">Robustness</text>
 <text x="1213" y="797">to tRNA loss</text>
 <text x="1213" y="815">in <tspan font-style="italic">synXV</tspan></text>
</g>
</svg>
</body></html>
